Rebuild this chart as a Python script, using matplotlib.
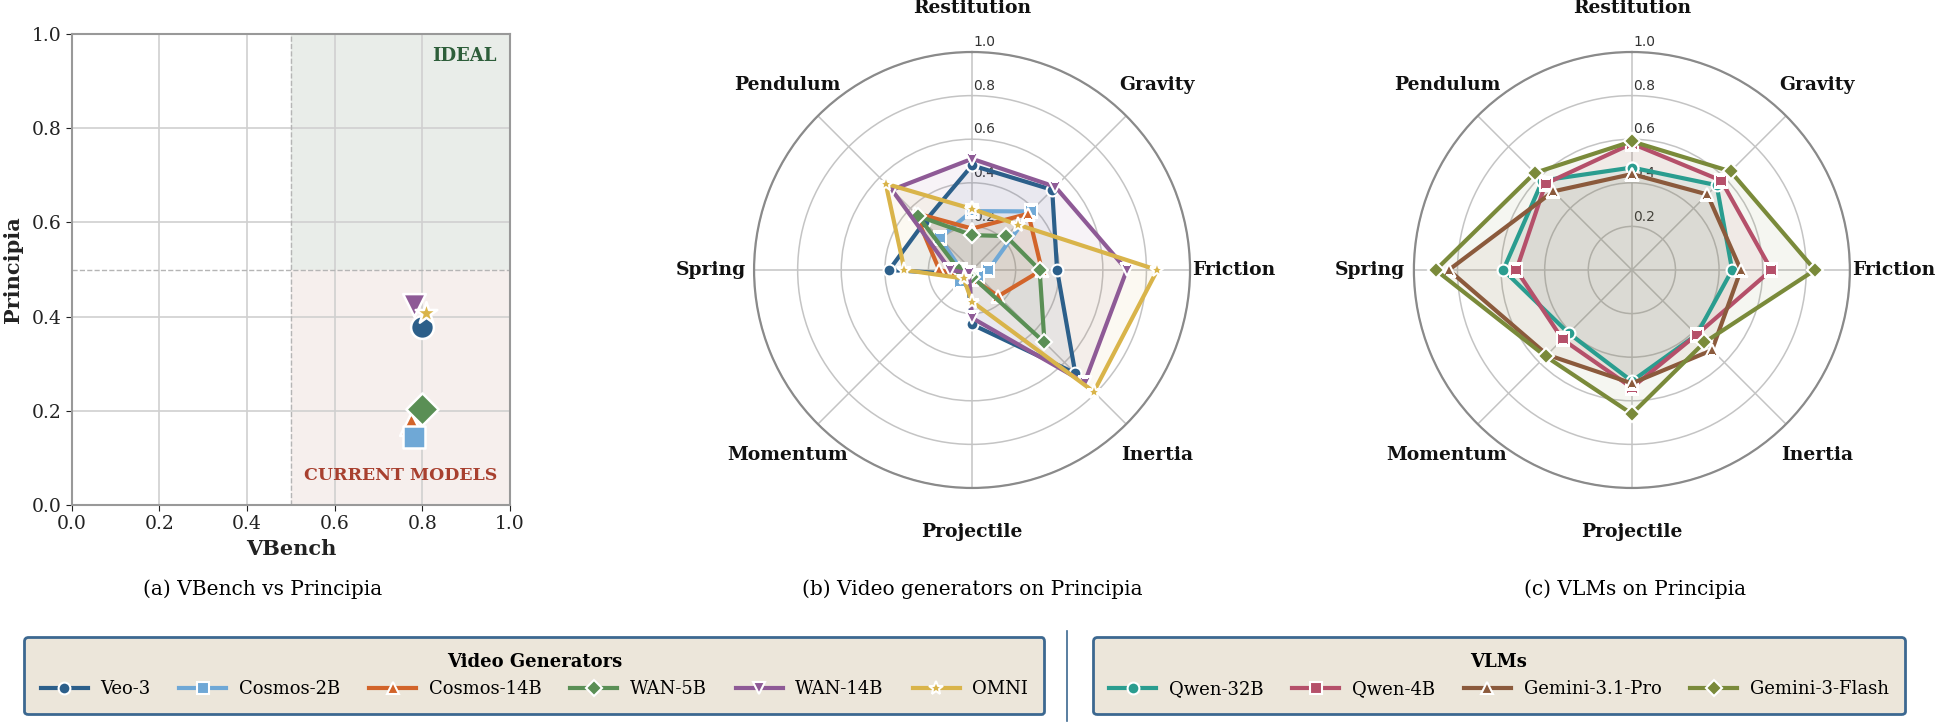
import numpy as np
import matplotlib
matplotlib.use("Agg")
import matplotlib.pyplot as plt
from matplotlib.lines import Line2D
from matplotlib.patches import Rectangle

plt.rcParams["font.family"] = ["DejaVu Serif"]

# ---- data ----
video_models = ["Veo-3", "Cosmos-2B", "Cosmos-14B", "WAN-5B", "WAN-14B", "OMNI"]
vbench = [0.80, 0.78, 0.775, 0.80, 0.78, 0.808]
principia = [0.378, 0.145, 0.173, 0.204, 0.425, 0.408]

categories = ["Restitution", "Gravity", "Friction", "Inertia",
              "Projectile", "Momentum", "Spring", "Pendulum"]

veo3 = [0.48, 0.52, 0.39, 0.67, 0.25, 0.03, 0.38, 0.31]
cosmos2b = [0.27, 0.38, 0.075, 0.04, 0.03, 0.08, 0.05, 0.21]
cosmos14b = [0.19, 0.365, 0.32, 0.17, 0.04, 0.04, 0.15, 0.37]
wan5b = [0.16, 0.22, 0.31, 0.47, 0.03, 0.03, 0.06, 0.35]
wan14b = [0.51, 0.54, 0.71, 0.73, 0.22, 0.02, 0.10, 0.52]
omni = [0.28, 0.295, 0.85, 0.79, 0.145, 0.055, 0.31, 0.56]
video_scores = [veo3, cosmos2b, cosmos14b, wan5b, wan14b, omni]

vlm_models = ["Qwen-32B", "Qwen-4B", "Gemini-3.1-Pro", "Gemini-3-Flash"]
qwen32b = [0.47, 0.55, 0.46, 0.42, 0.51, 0.41, 0.59, 0.58]
qwen4b = [0.58, 0.58, 0.64, 0.42, 0.54, 0.45, 0.53, 0.56]
gemini31pro = [0.44, 0.49, 0.50, 0.52, 0.52, 0.55, 0.84, 0.51]
gemini3flash = [0.59, 0.64, 0.84, 0.47, 0.66, 0.56, 0.90, 0.63]
vlm_scores = [qwen32b, qwen4b, gemini31pro, gemini3flash]

video_colors = ["#2c5f8a", "#6fa8d6", "#d2642a", "#5a8f55", "#8e5a96", "#d9b44a"]
video_markers = ["o", "s", "^", "D", "v", "*"]
vlm_colors = ["#2a9d8f", "#b5506a", "#8b5a3c", "#7a8a3a"]
vlm_markers = ["o", "s", "^", "D"]

fig = plt.figure(figsize=(19.35, 7.25), dpi=100)

# ---- (a) scatter ----
ax = fig.add_axes([0.037, 0.3034, 0.2266, 0.6497])
ax.add_patch(Rectangle((0.5, 0.5), 0.5, 0.5, color="#e9ede9", zorder=0))
ax.add_patch(Rectangle((0.5, 0.0), 0.5, 0.5, color="#f6efed", zorder=0))
ax.axvline(0.5, color="#b5b5b5", ls="--", lw=1, zorder=1)
ax.axhline(0.5, color="#b5b5b5", ls="--", lw=1, zorder=1)
ax.grid(True, color="#d0d0d0", lw=1.2, zorder=0.5)
ax.set_axisbelow(True)
order = [2, 1, 0, 3, 4, 5]  # draw order so overlaps look right
for i in order:
    ax.scatter(vbench[i], principia[i], s=270, marker=video_markers[i],
               color=video_colors[i], edgecolor="white", linewidth=1.8, zorder=3)
ax.set_xlim(0, 1)
ax.set_ylim(0, 1)
ax.set_xticks(np.arange(0, 1.01, 0.2))
ax.set_yticks(np.arange(0, 1.01, 0.2))
ax.tick_params(labelsize=13.5, colors="#222222", length=4)
for sp in ax.spines.values():
    sp.set_color("#999999")
    sp.set_linewidth(1.5)
ax.set_xlabel("VBench", fontsize=15, fontweight="bold", color="#222222", labelpad=4)
ax.set_ylabel("Principia", fontsize=15, fontweight="bold", color="#222222", labelpad=6)
ax.text(0.97, 0.972, "IDEAL", ha="right", va="top", fontsize=13,
        fontweight="bold", color="#2d5e3a")
ax.text(0.97, 0.045, "CURRENT MODELS", ha="right", va="bottom", fontsize=12.5,
        fontweight="bold", color="#a8402f")


# ---- radar helper ----
def radar(rect, scores, colors, markers, rticks):
    rax = fig.add_axes(rect, projection="polar")
    n = len(categories)
    angles = np.linspace(0, 2 * np.pi, n, endpoint=False)
    rax.set_theta_offset(np.pi / 2)
    rax.set_theta_direction(-1)
    rax.set_ylim(0, 1)
    rax.set_xticks(angles)
    rax.set_xticklabels([])
    rax.set_yticks([0.2, 0.4, 0.6, 0.8, 1.0])
    rax.set_yticklabels([])
    rax.grid(True, color="#c4c4c4", lw=1.1)
    rax.spines["polar"].set_color("#8a8a8a")
    rax.spines["polar"].set_linewidth(1.6)
    for a, c in zip(angles, categories):
        rax.text(a, 1.2, c, ha="center", va="center", fontsize=13.5,
                 fontweight="bold", color="#111111")
    for v in rticks:
        rax.annotate(f"{v:.1f}", xy=(0, v), xytext=(1, 2), textcoords="offset points",
                     ha="left", va="bottom", fontsize=10, family="DejaVu Sans",
                     color="#333333", zorder=2)
    ang = np.concatenate([angles, angles[:1]])
    for vals, col, mk in zip(scores, colors, markers):
        v = np.concatenate([vals, vals[:1]])
        rax.fill(ang, v, color=col, alpha=0.07, zorder=2)
        ms = 11 if mk == "*" else 8.5
        rax.plot(ang, v, color=col, lw=3, marker=mk, markersize=ms,
                 markeredgecolor="white", markeredgewidth=1.5, zorder=3)
    return rax


radar([0.3897, 0.3269, 0.2253, 0.6014], video_scores, video_colors, video_markers,
      [0.2, 0.4, 0.6, 0.8, 1.0])
radar([0.7307, 0.3269, 0.2253, 0.6014], vlm_scores, vlm_colors, vlm_markers,
      [0.2, 0.4, 0.6, 0.8, 1.0])

# ---- sub captions ----
fig.text(0.1355, 0.187, "(a) VBench vs Principia", ha="center", va="center", fontsize=14.5)
fig.text(0.5023, 0.187, "(b) Video generators on Principia", ha="center", va="center", fontsize=14.5)
fig.text(0.845, 0.187, "(c) VLMs on Principia", ha="center", va="center", fontsize=14.5)


# ---- legends ----
def handles(names, colors, markers):
    hs = []
    for nm, col, mk in zip(names, colors, markers):
        ms = 10 if mk == "*" else 8.5
        hs.append(Line2D([], [], color=col, lw=3, marker=mk, markersize=ms,
                         markeredgecolor="white", markeredgewidth=1.5, label=nm))
    return hs


def styled_legend(hs, title, center):
    leg = fig.legend(handles=hs, title=title, loc="center", bbox_to_anchor=center,
                     ncol=len(hs), fontsize=13, title_fontproperties={"weight": "bold", "size": 13},
                     handlelength=2.6, columnspacing=1.6, handletextpad=0.7,
                     borderpad=0.9, frameon=True, fancybox=True, framealpha=1)
    fr = leg.get_frame()
    fr.set_facecolor("#ece6da")
    fr.set_edgecolor("#3c6890")
    fr.set_linewidth(2)
    return leg


styled_legend(handles(video_models, video_colors, video_markers), "Video Generators", (0.2762, 0.068))
styled_legend(handles(vlm_models, vlm_colors, vlm_markers), "VLMs", (0.7747, 0.068))
fig.add_artist(Line2D([0.5514, 0.5514], [0.005, 0.13], color="#3c6890", lw=1.2))

fig.savefig("out.png", dpi=100)
